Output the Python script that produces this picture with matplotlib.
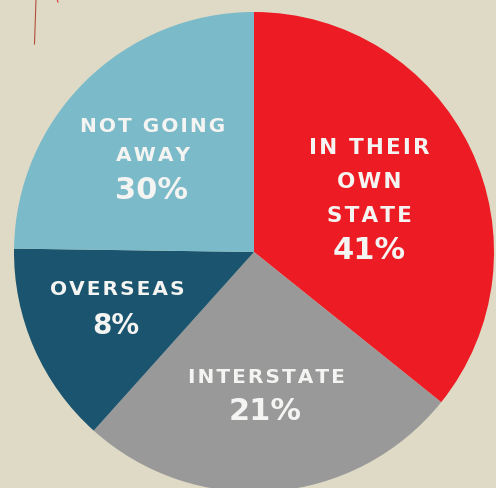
import matplotlib.pyplot as plt

# Slice labels and printed percentages
labels = ['IN THEIR\nOWN\nSTATE', 'INTERSTATE', 'OVERSEAS', 'NOT GOING\nAWAY']
pct = [41, 21, 8, 30]
# share of the circle each wedge actually covers in the drawing
drawn_share = [35.8, 25.9, 13.6, 24.8]
colors = ['#ed1c24', '#999999', '#1b546e', '#7bbac8']

W, H = 496, 489
bg = '#dedac6'

fig = plt.figure(figsize=(W / 100, H / 100), dpi=100, facecolor=bg)
ax = fig.add_axes([0, 0, 1, 1])
ax.set_facecolor(bg)

cx, cy, r = 254, H - 253, 240
ax.pie(drawn_share, colors=colors, startangle=90, counterclock=False,
       center=(cx, cy), radius=r, wedgeprops=dict(linewidth=0))
ax.set_xlim(0, W)
ax.set_ylim(0, H)
ax.set_aspect('equal')
ax.axis('off')


def spaced(s):
    # fake letter spacing with hair spaces
    return '\n'.join('\u200a'.join(line) for line in s.split('\n'))


# label positions (pixel coords, y from top): name centre, pct centre
name_pos = [(369, 182), (266, 378), (117, 290), (153, 141)]
pct_pos = [(369, 251), (265, 412), (116, 326), (151, 191)]
name_size = [15.5, 14.5, 14.5, 14.5]
name_ls = [1.9, 1.7, 1.7, 1.7]
pct_size = [22, 22, 20, 22]

txt = '#f4f4f2'
for i, (lab, p) in enumerate(zip(labels, pct)):
    nx, ny = name_pos[i]
    px, py = pct_pos[i]
    ax.text(nx, H - ny, spaced(lab), ha='center', va='center', color=txt,
            fontsize=name_size[i], fontweight='bold', family='DejaVu Sans',
            linespacing=name_ls[i], multialignment='center')
    ax.text(px, H - py, f'{p}%', ha='center', va='center', color=txt,
            fontsize=pct_size[i], fontweight='bold', family='DejaVu Sans')

# little pen stroke at the top left corner
ax.plot([36, 35.5, 35, 34.5], [H, H - 15, H - 30, H - 45], color='#b0503c', lw=0.8)
ax.plot([57, 58], [H, H - 3], color='#d33', lw=0.8)

fig.savefig('out.png', dpi=100, facecolor=bg)
